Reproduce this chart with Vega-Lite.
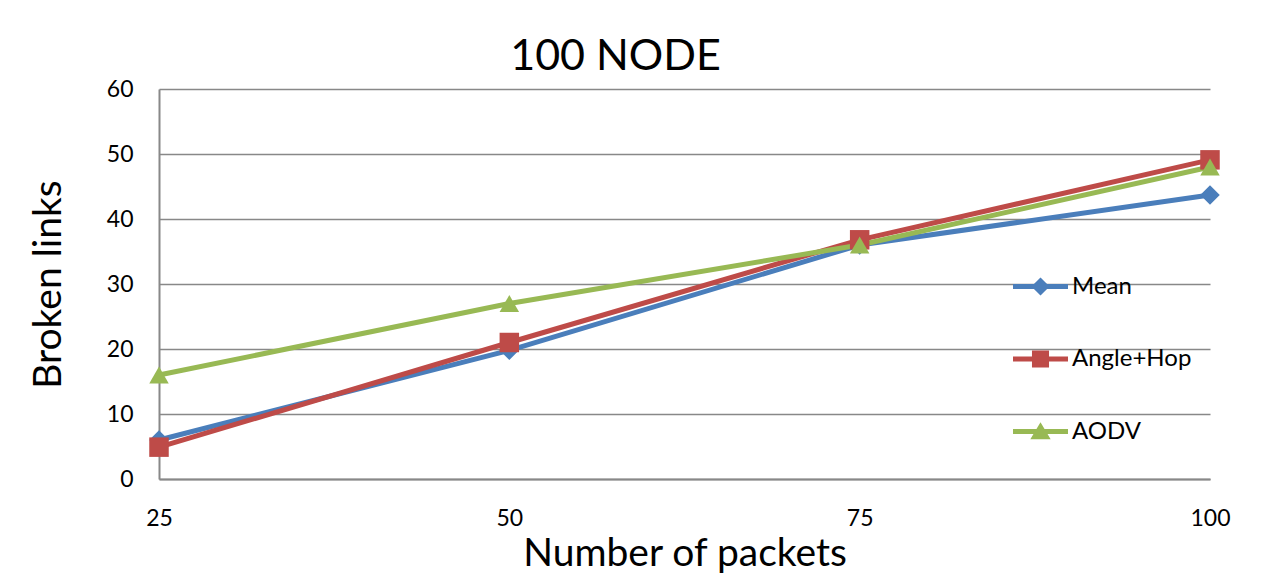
{
  "$schema": "https://vega.github.io/schema/vega-lite/v6.json",
  "width": 1051,
  "height": 390,
  "autosize": {"type": "none"},
  "padding": {"left": 159, "top": 89, "right": 67, "bottom": 104},
  "background": "white",
  "title": {
    "text": "100  NODE",
    "font": "Lato",
    "fontSize": 43,
    "fontWeight": "normal",
    "color": "black",
    "anchor": "middle",
    "baseline": "alphabetic",
    "offset": -35,
    "dx": -69
  },
  "config": {
    "view": {"stroke": null},
    "font": "Lato",
    "legend": {
      "orient": "none",
      "legendX": 854,
      "legendY": 170,
      "title": null,
      "padding": 0,
      "symbolSize": 3025,
      "symbolOpacity": 1,
      "symbolStrokeWidth": 0,
      "rowPadding": 32.5,
      "labelOffset": 4,
      "labelFont": "Lato",
      "labelFontSize": 24,
      "labelColor": "black",
      "labelLimit": 300
    }
  },
  "data": {
    "values": [
      {"packets": 25, "links": 6, "series": "Mean"},
      {"packets": 50, "links": 19.8, "series": "Mean"},
      {"packets": 75, "links": 36, "series": "Mean"},
      {"packets": 100, "links": 43.7, "series": "Mean"},
      {"packets": 25, "links": 4.9, "series": "Angle+Hop"},
      {"packets": 50, "links": 21, "series": "Angle+Hop"},
      {"packets": 75, "links": 36.8, "series": "Angle+Hop"},
      {"packets": 100, "links": 49.1, "series": "Angle+Hop"},
      {"packets": 25, "links": 16, "series": "AODV"},
      {"packets": 50, "links": 27, "series": "AODV"},
      {"packets": 75, "links": 36, "series": "AODV"},
      {"packets": 100, "links": 48, "series": "AODV"}
    ]
  },
  "encoding": {
    "x": {
      "field": "packets",
      "type": "quantitative",
      "scale": {"domain": [25, 100], "nice": false, "zero": false},
      "axis": {
        "values": [25, 50, 75, 100],
        "title": "Number of packets",
        "titleFont": "Lato",
        "titleFontSize": 39,
        "titleFontWeight": "normal",
        "titleColor": "black",
        "titlePadding": 4,
        "labelFont": "Lato",
        "labelFontSize": 23,
        "labelColor": "black",
        "labelPadding": 28,
        "labelFlush": false,
        "ticks": false,
        "grid": false,
        "domainColor": "#888888",
        "domainWidth": 2
      }
    },
    "y": {
      "field": "links",
      "type": "quantitative",
      "scale": {"domain": [0, 60], "nice": false},
      "axis": {
        "values": [0, 10, 20, 30, 40, 50, 60],
        "title": "Broken links",
        "titleFont": "Lato",
        "titleFontSize": 39,
        "titleFontWeight": "normal",
        "titleColor": "black",
        "titlePadding": 38,
        "labelFont": "Lato",
        "labelFontSize": 23,
        "labelColor": "black",
        "labelPadding": 26,
        "ticks": false,
        "grid": true,
        "gridColor": "#888888",
        "gridWidth": 1.5,
        "domainColor": "#888888",
        "domainWidth": 2
      }
    }
  },
  "layer": [
    {
      "mark": {"type": "line", "strokeWidth": 5},
      "encoding": {
        "color": {
          "field": "series",
          "type": "nominal",
          "scale": {"domain": ["Mean", "Angle+Hop", "AODV"], "range": ["#4A7EBB", "#BE4B48", "#98B954"]}
        },
        "detail": {"field": "series"}
      }
    },
    {
      "transform": [{"filter": "datum.series == 'Mean'"}],
      "mark": {"type": "point", "filled": true, "opacity": 1, "strokeWidth": 0, "shape": "diamond", "size": 380},
      "encoding": {
        "color": {"field": "series", "type": "nominal"}
      }
    },
    {
      "transform": [{"filter": "datum.series == 'Angle+Hop'"}],
      "mark": {"type": "point", "filled": true, "opacity": 1, "strokeWidth": 0, "shape": "square", "size": 380},
      "encoding": {
        "color": {"field": "series", "type": "nominal"}
      }
    },
    {
      "transform": [{"filter": "datum.series == 'AODV'"}],
      "mark": {"type": "point", "filled": true, "opacity": 1, "strokeWidth": 0, "shape": "triangle-up", "size": 380},
      "encoding": {
        "color": {"field": "series", "type": "nominal"}
      }
    },
    {
      "mark": {"type": "point", "filled": true, "opacity": 0, "strokeWidth": 0},
      "encoding": {
        "color": {"field": "series", "type": "nominal"},
        "shape": {
          "field": "series",
          "type": "nominal",
          "scale": {
            "domain": ["Mean", "Angle+Hop", "AODV"],
            "range": [
              "M-1,-0.09H1V0.09H-1Z M0,-0.33L0.33,0L0,0.33L-0.33,0Z",
              "M-1,-0.09H1V0.09H-1Z M-0.31,-0.31H0.31V0.31H-0.31Z",
              "M-1,-0.09H1V0.09H-1Z M0,-0.34L0.37,0.28L-0.37,0.28Z"
            ]
          }
        }
      }
    }
  ]
}
